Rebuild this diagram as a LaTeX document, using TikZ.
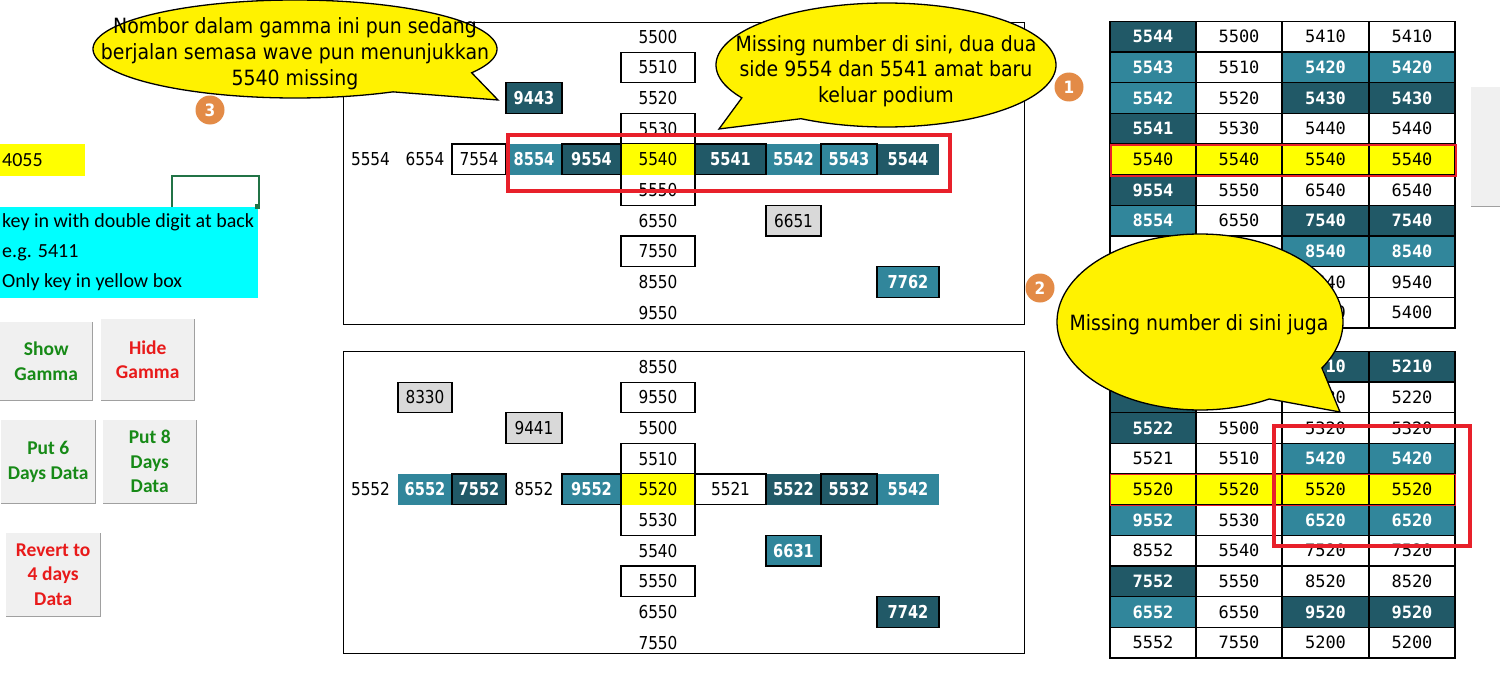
\documentclass[tikz,border=0pt]{standalone}
\usepackage{fontspec}
\setmainfont{Carlito}
\newfontfamily\tahP[FakeStretch=0.86]{DejaVu Sans}
\newfontfamily\tahB[FakeStretch=0.82]{DejaVu Sans Bold}
\newfontfamily\tahC[FakeStretch=0.9]{DejaVu Sans}
\newfontfamily\monoF{DejaVu Sans Mono}
\definecolor{dteal}{HTML}{215967}
\definecolor{lteal}{HTML}{31869B}
\definecolor{lgray}{HTML}{D9D9D9}
\definecolor{ylw}{HTML}{FFFF00}
\definecolor{callY}{HTML}{FFF200}
\definecolor{redR}{HTML}{E8202A}
\definecolor{orng}{HTML}{E38B47}
\definecolor{cyanB}{HTML}{00FFFF}
\definecolor{btnG}{HTML}{F0F0F0}
\definecolor{btnS}{HTML}{A0A0A0}
\definecolor{gtxt}{HTML}{178A17}
\definecolor{rtxt}{HTML}{E81A1A}
\definecolor{selG}{HTML}{217346}
\newcommand\cell[6]{\node[#5, minimum width={(#3-#2)*1pt}] (#1) at ({(#2+#3)/2},#4) {#6};}
\newcommand\tA[4]{\cell{#1}{1110}{1196}{#2}{#3}{#4}}
\newcommand\tB[4]{\cell{#1}{1196}{1282}{#2}{#3}{#4}}
\newcommand\tC[4]{\cell{#1}{1282}{1369}{#2}{#3}{#4}}
\newcommand\tD[4]{\cell{#1}{1369}{1455}{#2}{#3}{#4}}
\begin{document}
\begin{tikzpicture}[x=1pt,y=-1pt,
  pc/.style={inner sep=0pt, outer sep=0pt, minimum height=30.65pt, font=\tahP\fontsize{17.8}{20}\selectfont},
  pbox/.style={pc, draw=black, line width=1.3pt, fill=white},
  pyl/.style={pc, fill=ylw},
  plt/.style={pc, fill=lteal, text=white, font=\tahB\fontsize{17.8}{20}\selectfont},
  pltb/.style={plt, draw=black, line width=1.3pt},
  pdk/.style={plt, fill=dteal},
  pdkb/.style={pdk, draw=black, line width=1.3pt},
  pgr/.style={pc, fill=lgray, draw=black, line width=1.3pt},
  tcl/.style={inner sep=0pt, outer sep=0pt, minimum height=30.65pt, draw=black, line width=1.3pt, font=\monoF\fontsize{17}{20}\selectfont},
  tw/.style={tcl, fill=white},
  ty/.style={tcl, fill=ylw},
  tl/.style={tcl, fill=lteal, text=white, font=\monoF\bfseries\fontsize{17}{20}\selectfont},
  td/.style={tl, fill=dteal},
  panel/.style={draw=black, line width=1.4pt, inner sep=0pt, anchor=north west},
  hlbox/.style={draw=redR, inner sep=0pt, anchor=north west},
  callout/.style={draw=black, fill=callY, line width=1.3pt},
  ctext/.style={align=center, inner sep=0pt, font=\tahC\fontsize{21}{25.5}\selectfont},
  badge/.style={circle, fill=orng, minimum size=29pt, inner sep=0pt, text=white, font=\tahC\bfseries\fontsize{17}{17}\selectfont},
  btn/.style={fill=btnG, inner sep=0pt, align=center, anchor=north west, font=\bfseries\fontsize{19.5}{24.5}\selectfont},
  btnshadow/.style={draw=btnS, line width=1.6pt},
  lt/.style={anchor=base west, inner sep=0pt, font=\fontsize{20}{24}\selectfont}
]
\useasboundingbox (0,0) rectangle (1500,693);
\fill[white] (0,0) rectangle (1500,693);

% ---------- left side ----------
\node[fill=ylw, minimum width=85pt, minimum height=32pt, anchor=north west, inner sep=0pt] (inbox) at (0,144) {};
\node[lt] (intext) at (2,166) {4055};
\node[draw=selG, line width=1.5pt, minimum width=87pt, minimum height=32pt, anchor=north west, inner sep=0pt] (sel) at (171,175) {};
\node[fill=cyanB, minimum width=258pt, minimum height=91pt, anchor=north west, inner sep=0pt] (cyanbox) at (0,207) {};
\node[fill=selG, minimum size=5pt, inner sep=0pt] (selh) at (257,206) {};
\node[lt] (l1) at (2,227) {key in with double digit at back};
\node[lt] (l2) at (2,257) {e.g. 5411};
\node[lt] (l3) at (2,287) {Only key in yellow box};

\node[btn, text=gtxt, minimum width=92pt, minimum height=78pt] (showg) at (0,322) {Show\\Gamma};
\node[btn, text=rtxt, minimum width=93pt, minimum height=81pt] (hideg) at (101,319) {Hide\\Gamma};
\node[btn, text=gtxt, minimum width=94pt, minimum height=83pt] (put6) at (1,420) {Put 6\\Days Data};
\node[btn, text=gtxt, minimum width=93pt, minimum height=83pt] (put8) at (103,420) {Put 8\\Days\\Data};
\node[btn, text=rtxt, minimum width=94pt, minimum height=83pt] (revert) at (6,533) {Revert to\\4 days\\Data};
\foreach \b in {showg,hideg,put6,put8,revert}
  \draw[btnshadow] (\b.north east) -- (\b.south east) -- (\b.south west);

% ---------- top panel ----------
\node[panel, minimum width=681pt, minimum height=302pt] (tpanel) at (343,22) {};
\cell{t5500}{621}{695}{36.8}{pc}{5500}
\cell{t5510}{621}{695}{67.5}{pbox}{5510}
\cell{t5520}{621}{695}{98.1}{pc}{5520}
\cell{t9443}{506}{562}{98.1}{pdkb}{9443}
\cell{t5530}{621}{695}{128.8}{pbox}{5530}
\cell{t5550}{621}{695}{190.1}{pbox}{5550}
\cell{t5554}{343}{398}{159.4}{pc}{5554}
\cell{t6554}{398}{452}{159.4}{pc}{6554}
\cell{t8554}{506}{562}{159.4}{plt}{8554}
\cell{t5540}{621}{695}{159.4}{pyl}{5540}
\cell{t5542}{766}{821}{159.4}{plt}{5542}
\cell{t5544}{877}{939}{159.4}{pdk}{5544}
\cell{t7554}{452}{506}{159.4}{pbox}{7554}
\cell{t9554}{562}{621}{159.4}{pdkb}{9554}
\cell{t5541}{695}{766}{159.4}{pdkb}{5541}
\cell{t5543}{821}{877}{159.4}{pltb}{5543}
\cell{t6550}{621}{695}{220.7}{pc}{6550}
\cell{t6651}{766}{821}{220.7}{pgr}{6651}
\cell{t7550}{621}{695}{251.4}{pbox}{7550}
\cell{t8550}{621}{695}{282.0}{pc}{8550}
\cell{t7762}{877}{939}{282.0}{pltb}{7762}
\cell{t9550}{621}{695}{312.7}{pc}{9550}
\node[hlbox, line width=3.5pt, minimum width=442pt, minimum height=56pt] (hl1) at (506,133) {};

% ---------- bottom panel ----------
\node[panel, minimum width=681pt, minimum height=302pt] (bpanel) at (343,351) {};
\cell{b8550}{621}{695}{366.8}{pc}{8550}
\cell{b9550}{621}{695}{397.5}{pbox}{9550}
\cell{b8330}{398}{452}{397.5}{pgr}{8330}
\cell{b5500}{621}{695}{428.1}{pc}{5500}
\cell{b9441}{506}{562}{428.1}{pgr}{9441}
\cell{b5510}{621}{695}{458.8}{pbox}{5510}
\cell{b5530}{621}{695}{520.1}{pbox}{5530}
\cell{b5552}{343}{398}{489.4}{pc}{5552}
\cell{b6552}{398}{452}{489.4}{plt}{6552}
\cell{b8552}{506}{562}{489.4}{pc}{8552}
\cell{b5520}{621}{695}{489.4}{pyl}{5520}
\cell{b5522}{766}{821}{489.4}{pdk}{5522}
\cell{b5542}{877}{939}{489.4}{plt}{5542}
\cell{b7552}{452}{506}{489.4}{pdkb}{7552}
\cell{b9552}{562}{621}{489.4}{pltb}{9552}
\cell{b5521}{695}{766}{489.4}{pbox}{5521}
\cell{b5532}{821}{877}{489.4}{pdkb}{5532}
\cell{b5540}{621}{695}{550.7}{pc}{5540}
\cell{b6631}{766}{821}{550.7}{pltb}{6631}
\cell{b5550}{621}{695}{581.4}{pbox}{5550}
\cell{b6550}{621}{695}{612.0}{pc}{6550}
\cell{b7742}{877}{939}{612.0}{pdkb}{7742}
\cell{b7550}{621}{695}{642.7}{pc}{7550}

% ---------- top right table ----------
\tA{ra0}{36.8}{td}{5544}\tB{rb0}{36.8}{tw}{5500}\tC{rc0}{36.8}{tw}{5410}\tD{rd0}{36.8}{tw}{5410}
\tA{ra1}{67.5}{tl}{5543}\tB{rb1}{67.5}{tw}{5510}\tC{rc1}{67.5}{tl}{5420}\tD{rd1}{67.5}{tl}{5420}
\tA{ra2}{98.1}{tl}{5542}\tB{rb2}{98.1}{tw}{5520}\tC{rc2}{98.1}{td}{5430}\tD{rd2}{98.1}{td}{5430}
\tA{ra3}{128.8}{td}{5541}\tB{rb3}{128.8}{tw}{5530}\tC{rc3}{128.8}{tw}{5440}\tD{rd3}{128.8}{tw}{5440}
\tA{ra4}{159.4}{ty}{5540}\tB{rb4}{159.4}{ty}{5540}\tC{rc4}{159.4}{ty}{5540}\tD{rd4}{159.4}{ty}{5540}
\tA{ra5}{190.1}{td}{9554}\tB{rb5}{190.1}{tw}{5550}\tC{rc5}{190.1}{tw}{6540}\tD{rd5}{190.1}{tw}{6540}
\tA{ra6}{220.7}{tl}{8554}\tB{rb6}{220.7}{tw}{6550}\tC{rc6}{220.7}{td}{7540}\tD{rd6}{220.7}{td}{7540}
\tA{ra7}{251.4}{tw}{}\tB{rb7}{251.4}{tw}{}\tC{rc7}{251.4}{tl}{8540}\tD{rd7}{251.4}{tl}{8540}
\tA{ra8}{282.0}{tw}{}\tB{rb8}{282.0}{tw}{}\tC{rc8}{282.0}{tw}{9540}\tD{rd8}{282.0}{tw}{9540}
\tA{ra9}{312.7}{tw}{}\tB{rb9}{312.7}{tw}{}\tC{rc9}{312.7}{tw}{5400}\tD{rd9}{312.7}{tw}{5400}
\node[hlbox, line width=2.2pt, minimum width=345pt, minimum height=30.65pt] (hlrow1) at (1110,144.1) {};

% ---------- bottom right table ----------
\tA{sa0}{366.8}{tl}{}\tB{sb0}{366.8}{tw}{}\tC{sc0}{366.8}{td}{5210}\tD{sd0}{366.8}{td}{5210}
\tA{sa1}{397.5}{td}{}\tB{sb1}{397.5}{tw}{}\tC{sc1}{397.5}{tw}{5220}\tD{sd1}{397.5}{tw}{5220}
\tA{sa2}{428.1}{td}{5522}\tB{sb2}{428.1}{tw}{5500}\tC{sc2}{428.1}{tw}{5320}\tD{sd2}{428.1}{tw}{5320}
\tA{sa3}{458.8}{tw}{5521}\tB{sb3}{458.8}{tw}{5510}\tC{sc3}{458.8}{tl}{5420}\tD{sd3}{458.8}{tl}{5420}
\tA{sa4}{489.4}{ty}{5520}\tB{sb4}{489.4}{ty}{5520}\tC{sc4}{489.4}{ty}{5520}\tD{sd4}{489.4}{ty}{5520}
\tA{sa5}{520.1}{tl}{9552}\tB{sb5}{520.1}{tw}{5530}\tC{sc5}{520.1}{tl}{6520}\tD{sd5}{520.1}{tl}{6520}
\tA{sa6}{550.7}{tw}{8552}\tB{sb6}{550.7}{tw}{5540}\tC{sc6}{550.7}{tw}{7520}\tD{sd6}{550.7}{tw}{7520}
\tA{sa7}{581.4}{td}{7552}\tB{sb7}{581.4}{tw}{5550}\tC{sc7}{581.4}{tw}{8520}\tD{sd7}{581.4}{tw}{8520}
\tA{sa8}{612.0}{tl}{6552}\tB{sb8}{612.0}{tw}{6550}\tC{sc8}{612.0}{td}{9520}\tD{sd8}{612.0}{td}{9520}
\tA{sa9}{642.7}{tw}{5552}\tB{sb9}{642.7}{tw}{7550}\tC{sc9}{642.7}{tw}{5200}\tD{sd9}{642.7}{tw}{5200}
\node[hlbox, line width=1.3pt, minimum width=345pt, minimum height=30.65pt] (hlrow2) at (1110,474.1) {};
\node[hlbox, line width=4pt, minimum width=196pt, minimum height=120pt] (hl2) at (1272,424) {};

% ---------- partial button at right edge ----------
\node[fill=btnG, minimum width=29pt, minimum height=119pt, anchor=north west, inner sep=0pt] (rbtn) at (1471,87) {};
\draw[btnshadow] (rbtn.south west) -- (rbtn.south east);

% ---------- callouts ----------
\path[callout] plot[domain=148:480, samples=150, variable=\t] ({886+170*cos(\t)},{65+62*sin(\t)}) -- (719,129) -- cycle;
\node[ctext] (ct1) at (886,71) {Missing number di sini, dua dua\\side 9554 dan 5541 amat baru\\keluar podium};

\path[callout] plot[domain=61:389, samples=150, variable=\t] ({295+202*cos(\t)},{49+49*sin(\t)}) -- (498,100) -- cycle;
\node[ctext, font=\tahC\fontsize{21}{26}\selectfont] (ct3) at (295,54) {Nombor dalam gamma ini pun sedang\\berjalan semasa wave pun menunjukkan\\5540 missing};

\path[callout] plot[domain=61:391.5, samples=150, variable=\t] ({1200+143*cos(\t)},{322+88*sin(\t)}) -- (1340,412) -- cycle;
\node[ctext] (ct2) at (1199,325) {Missing number di sini juga};

% ---------- badges ----------
\node[badge] (n1) at (1069,87) {1};
\node[badge] (n2) at (1040,288) {2};
\node[badge] (n3) at (210,110) {3};
\end{tikzpicture}
\end{document}
